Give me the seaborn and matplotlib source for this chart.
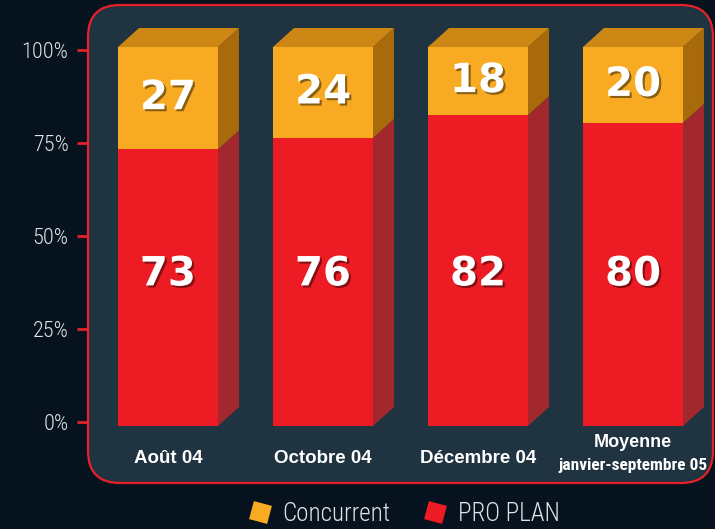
import matplotlib
matplotlib.use("Agg")
import matplotlib.pyplot as plt
import matplotlib.patheffects as pe
from matplotlib import font_manager
from matplotlib.patches import Polygon, FancyBboxPatch
from matplotlib.lines import Line2D
import seaborn as sns
import pandas as pd

categories = ["Août 04", "Octobre 04", "Décembre 04", "Moyenne\njanvier-septembre 05"]
pro_plan = [73, 76, 82, 80]
concurrent = [27, 24, 18, 20]
series_names = ["Concurrent", "PRO PLAN"]
yticks = [0, 25, 50, 75, 100]

BG = "#06121e"
PANEL = "#203340"
BORDER = "#e8202a"
RED = "#ed1c24"
RED_SIDE = "#a3282e"
ORANGE = "#f8ab22"
ORANGE_TOP = "#cd8714"
ORANGE_SIDE = "#a86a0a"
LIGHT = "#dfe3e6"

# pick a narrow font if one is around
names = {f.name for f in font_manager.fontManager.ttflist}
narrow = [n for n in ["Liberation Sans Narrow", "Roboto Condensed", "Open Sans Condensed",
                      "DejaVu Sans Condensed", "Roboto"] if n in names]
condensed_dejavu = any(f.name == "DejaVu Sans" and f.stretch == "condensed"
                       for f in font_manager.fontManager.ttflist)
NARROW = narrow[:1] + ["DejaVu Sans"]
STRETCH = "condensed" if (not narrow or narrow[0] == "Roboto") and condensed_dejavu else "normal"
if STRETCH == "condensed":
    NARROW = ["DejaVu Sans"]
WIDE = ["Liberation Sans", "DejaVu Sans"]

sns.set_theme(style="white")
plt.rcParams["font.family"] = NARROW
plt.rcParams["font.stretch"] = STRETCH

df = pd.DataFrame({"cat": categories, "pro": pro_plan, "conc": concurrent})
df["total"] = df["pro"] + df["conc"]

fig = plt.figure(figsize=(7.15, 5.29), dpi=100, facecolor=BG)

# rounded panel
panel = FancyBboxPatch((0.88, 0.46), 6.25, 4.78,
                       boxstyle="round,pad=0,rounding_size=0.32",
                       transform=fig.dpi_scale_trans, facecolor=PANEL,
                       edgecolor=BORDER, linewidth=1.6, zorder=-5)
fig.patches.append(panel)

# bars
ax = fig.add_axes([90.5 / 715, (529 - 426) / 529, 620 / 715, 379 / 529])
ax.set_facecolor("none")
sns.barplot(data=df, x="cat", y="total", color=ORANGE, saturation=1,
            width=0.645, errorbar=None, linewidth=0, ax=ax)
sns.barplot(data=df, x="cat", y="pro", color=RED, saturation=1,
            width=0.645, errorbar=None, linewidth=0, ax=ax)
ax.set_ylim(0, 100)
ax.set_xlim(-0.5, len(categories) - 0.5)
for s in ax.spines.values():
    s.set_visible(False)
ax.set_xticks([])
ax.set_yticks([])
ax.set_xlabel("")
ax.set_ylabel("")

# depth of the fake 3D faces
dx = 21 / 155
dy = 19 / 3.79

n = len(categories)
orange_bars = ax.patches[:n]
red_bars = ax.patches[n:]
for ob, rb in zip(orange_bars, red_bars):
    xl = ob.get_x()
    xr = xl + ob.get_width()
    top = ob.get_height()
    mid = rb.get_height()
    ax.add_patch(Polygon([(xr, 0), (xr + dx, dy), (xr + dx, mid + dy), (xr, mid)],
                         closed=True, facecolor=RED_SIDE, edgecolor="none", clip_on=False))
    ax.add_patch(Polygon([(xr, mid), (xr + dx, mid + dy), (xr + dx, top + dy), (xr, top)],
                         closed=True, facecolor=ORANGE_SIDE, edgecolor="none", clip_on=False))
    ax.add_patch(Polygon([(xl, top), (xr, top), (xr + dx, top + dy), (xl + dx, top + dy)],
                         closed=True, facecolor=ORANGE_TOP, edgecolor="none", clip_on=False))

shadow = [pe.withSimplePatchShadow(offset=(1.5, -1.5), shadow_rgbFace="black", alpha=0.45)]
for i, (p, c) in enumerate(zip(pro_plan, concurrent)):
    ax.text(i, 40, str(p), ha="center", va="center", color="white", fontsize=29,
            fontweight="bold", family="DejaVu Sans", fontstretch="normal", path_effects=shadow)
    ax.text(i, p + c / 2, str(c), ha="center", va="center", color="white", fontsize=29,
            fontweight="bold", family="DejaVu Sans", fontstretch="normal", path_effects=shadow)

# category labels
for i, cat in enumerate(categories):
    lines = cat.split("\n")
    if len(lines) == 1:
        ax.text(i, -9.8, lines[0], ha="center", va="baseline", color="white",
                fontsize=13.5, fontweight="bold", family=WIDE, fontstretch="normal",
                clip_on=False)
    else:
        ax.text(i, -5.5, lines[0], ha="center", va="baseline", color="white",
                fontsize=13, fontweight="bold", family=WIDE, fontstretch="normal",
                clip_on=False)
        ax.text(i, -11.6, lines[1], ha="center", va="baseline", color="white",
                fontsize=12.5, fontweight="bold", clip_on=False)

# y axis ticks on the panel border
tax = fig.add_axes([88 / 715, (529 - 422) / 529, 0.0001, 372 / 529])
tax.set_facecolor("none")
tax.set_ylim(0, 100)
tax.set_xticks([])
tax.set_yticks(yticks)
tax.set_yticklabels([f"{t}%" for t in yticks], fontweight="light")
for s in tax.spines.values():
    s.set_visible(False)
tax.tick_params(axis="y", left=True, length=8, width=2, color=BORDER,
                labelcolor=LIGHT, labelsize=16, pad=6)

# legend
handles = [Line2D([], [], linestyle="none", marker=(4, 0, 30), markersize=19,
                  markerfacecolor=col, markeredgecolor="none")
           for col in [ORANGE, RED]]
leg = fig.legend(handles, series_names, loc="center", ncol=2, frameon=False,
                 bbox_to_anchor=(402 / 715, 15 / 529),
                 prop={"size": 18, "weight": "light"},
                 handletextpad=0.3, columnspacing=1.2, handlelength=1.2)
for t in leg.get_texts():
    t.set_color(LIGHT)

fig.savefig("out.png", dpi=100, facecolor=BG)
